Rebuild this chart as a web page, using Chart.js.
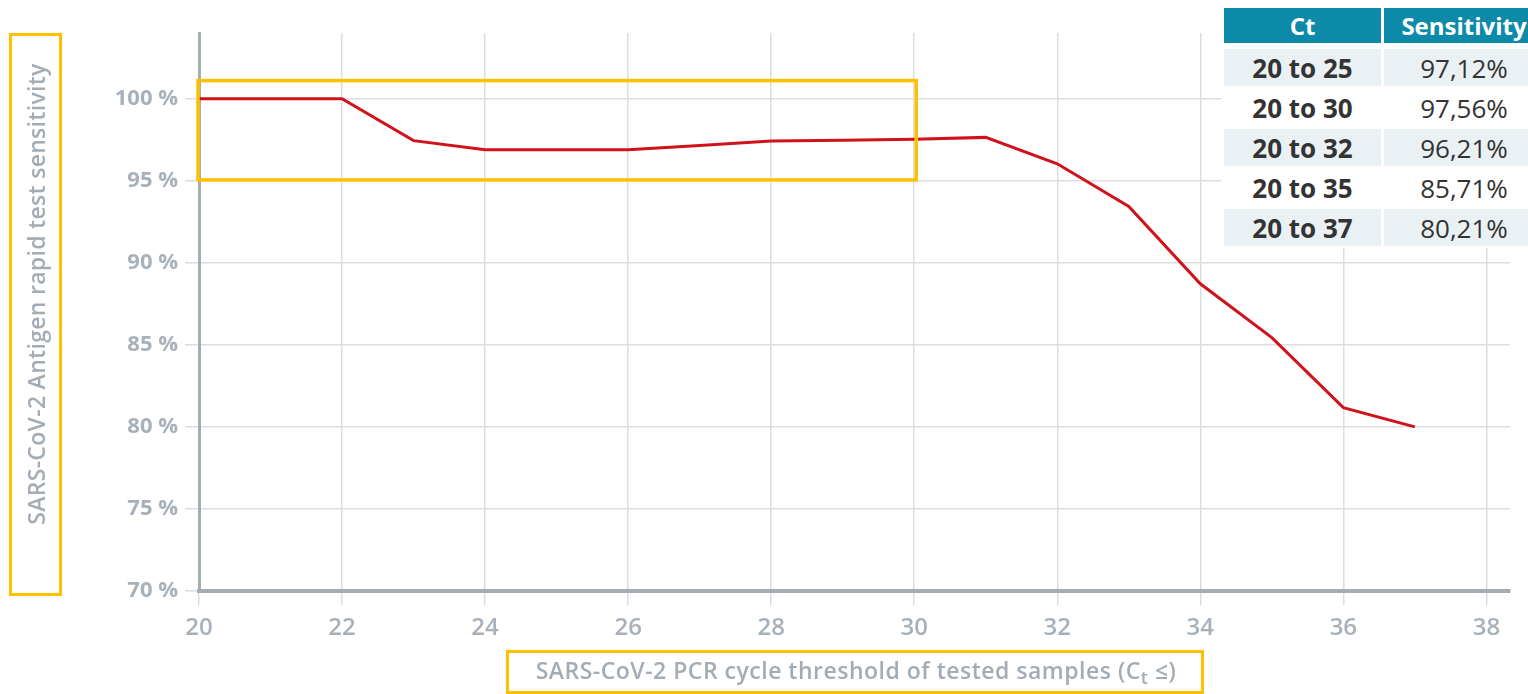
<!DOCTYPE html>
<html>
<head>
<meta charset="utf-8">
<script src="https://cdn.jsdelivr.net/npm/chart.js@4/dist/chart.umd.min.js"></script>
<style>
  html, body { margin: 0; padding: 0; background: #fff; overflow: hidden; }
  #wrap { position: relative; width: 1528px; height: 694px; }
  #chart { position: absolute; left: 0; top: 0; }
  .ybox { position: absolute; left: 9px; top: 33px; width: 47px; height: 557px; border: 3px solid #ffc000; }
  .ytitle { position: absolute; left: 36px; top: 294px; transform: translate(-50%, -50%) rotate(-90deg);
    white-space: nowrap; font: 600 23px "Open Sans", sans-serif; letter-spacing: 0.3px; color: #a3acb5; }
  .xbox { position: absolute; left: 506px; top: 650px; width: 692px; height: 38px; border: 3px solid #ffc000; }
  .xtitle { position: absolute; left: 856px; top: 671px; transform: translate(-50%, -50%);
    white-space: nowrap; font: 600 23px "Open Sans", sans-serif; letter-spacing: 0.5px; color: #a3acb5; }
  .xtitle sub { font-size: 18px; vertical-align: -5px; }
  #tbl { position: absolute; left: 1221px; top: 0; width: 320px; height: 248px; background: #fff; }
  .cell { position: absolute; display: flex; align-items: center; justify-content: center;
    font-family: "Open Sans", sans-serif; font-size: 26px; color: #333; }
  .head { background: #0e8aa9; color: #fff; font-weight: bold; font-size: 24px; }
  .shade { background: #eaf1f5; }
</style>
</head>
<body>
<div id="wrap">
  <canvas id="chart" width="1528" height="694"></canvas>
  <div class="ybox"></div>
  <div class="ytitle">SARS-CoV-2 Antigen rapid test sensitivity</div>
  <div class="xbox"></div>
  <div class="xtitle">SARS-CoV-2 PCR cycle threshold of tested samples (C<sub>t</sub> ≤)</div>
  <div id="tbl"></div>
</div>
<script>
// Ct thresholds and sensitivity (%)
const ctValues = [20, 21, 22, 23, 24, 25, 26, 27, 28, 29, 30, 31, 32, 33, 34, 35, 36, 37];
const sensitivity = [100, 100, 100, 97.44, 96.88, 96.88, 96.88, 97.15, 97.42, 97.46, 97.52, 97.64, 96.03, 93.43, 88.72, 85.44, 81.17, 80.0];

const xTicks = [20, 22, 24, 26, 28, 30, 32, 34, 36, 38];
const yTicks = [70, 75, 80, 85, 90, 95, 100];

// highlighted region (Ct 20–30, 95–101 %)
const highlightX = [20, 30];
const highlightY = [95.05, 101.1];

// table
const tableHeader = ['Ct', 'Sensitivity'];
const tableRanges = ['20 to 25', '20 to 30', '20 to 32', '20 to 35', '20 to 37'];
const tableValues = ['97,12%', '97,56%', '96,21%', '85,71%', '80,21%'];

// build the table
const tbl = document.getElementById('tbl');
const colLeft = [3, 163];
const colWidth = [157, 160];
const addCell = (text, col, top, h, cls, bold) => {
  const d = document.createElement('div');
  d.className = 'cell ' + cls;
  d.style.left = colLeft[col] + 'px';
  d.style.width = colWidth[col] + 'px';
  d.style.top = top + 'px';
  d.style.height = h + 'px';
  if (bold) d.style.fontWeight = 'bold';
  d.textContent = text;
  tbl.appendChild(d);
};
tableHeader.forEach((t, i) => addCell(t, i, 8, 35, 'head', true));
tableRanges.forEach((r, i) => {
  const top = 49 + i * 40;
  const cls = i % 2 === 0 ? 'shade' : '';
  addCell(r, 0, top, 37, cls, true);
  addCell(tableValues[i], 1, top, 37, cls, false);
});

const gridColor = '#d9dee3';
const axisColor = '#a5adb4';
const tickFontColor = '#a8b1ba';

const highlightBox = {
  id: 'highlightBox',
  afterDatasetsDraw(chart) {
    const { ctx, scales: { x, y } } = chart;
    const x0 = x.getPixelForValue(highlightX[0]);
    const x1 = x.getPixelForValue(highlightX[1]);
    const y0 = y.getPixelForValue(highlightY[1]);
    const y1 = y.getPixelForValue(highlightY[0]);
    ctx.save();
    ctx.strokeStyle = '#ffc000';
    ctx.lineWidth = 3.5;
    ctx.strokeRect(x0 - 1, y0, x1 - x0 + 3, y1 - y0);
    ctx.restore();
  }
};

new Chart(document.getElementById('chart'), {
  type: 'line',
  data: {
    labels: ctValues,
    datasets: [{
      data: ctValues.map((c, i) => ({ x: c, y: sensitivity[i] })),
      borderColor: '#d0121b',
      borderWidth: 3,
      pointRadius: 0,
      tension: 0,
      fill: false
    }]
  },
  options: {
    responsive: false,
    animation: false,
    layout: { padding: { top: 33, right: 18, left: 0, bottom: 0 } },
    plugins: { legend: { display: false }, tooltip: { enabled: false } },
    scales: {
      x: {
        type: 'linear',
        min: 20,
        max: 38.33,
        afterBuildTicks: (scale) => { scale.ticks = xTicks.map(v => ({ value: v })); },
        afterFit: (scale) => { scale.height = 103; },
        grid: { color: gridColor, lineWidth: 1.5, tickLength: 14, tickColor: gridColor },
        border: { color: axisColor, width: 4 },
        ticks: {
          padding: 9,
          maxRotation: 0,
          color: tickFontColor,
          font: { family: 'Open Sans', size: 24, weight: '600' }
        }
      },
      y: {
        min: 70,
        max: 104,
        afterBuildTicks: (scale) => { scale.ticks = yTicks.map(v => ({ value: v })); },
        afterFit: (scale) => { scale.width = 199; },
        grid: { color: gridColor, lineWidth: 1.5, tickLength: 14, tickColor: gridColor },
        border: { color: axisColor, width: 3 },
        ticks: {
          padding: 7,
          color: tickFontColor,
          font: { family: 'Open Sans', size: 22, weight: 'bold' },
          callback: (v) => v + ' %'
        }
      }
    }
  },
  plugins: [highlightBox]
});
</script>
</body>
</html>
